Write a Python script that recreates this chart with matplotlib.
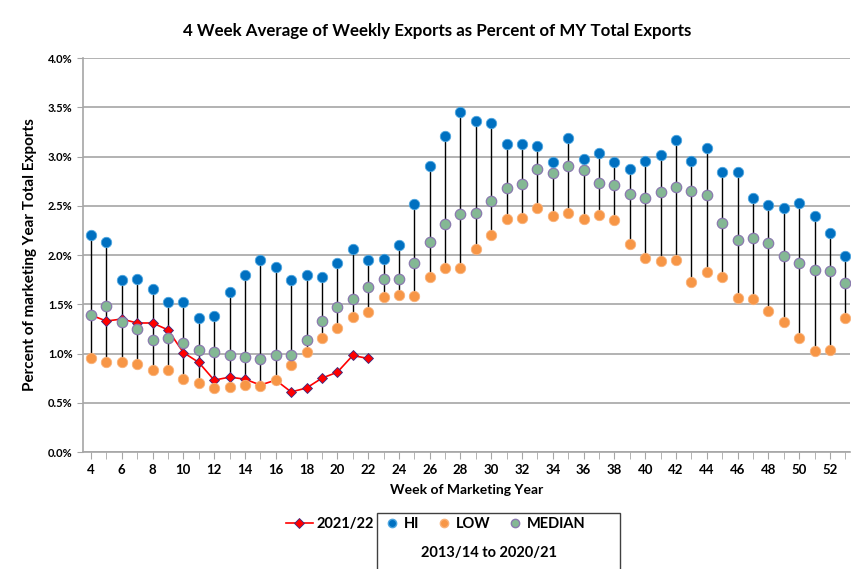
import matplotlib
matplotlib.use("Agg")
import matplotlib.pyplot as plt
from matplotlib.lines import Line2D
from matplotlib.patches import Rectangle
from matplotlib.ticker import FuncFormatter, MultipleLocator

plt.rcParams['font.family'] = ['Lato', 'DejaVu Sans']
plt.rcParams['font.weight'] = 'bold'

weeks = list(range(4, 54))
hi = [2.20, 2.13, 1.75, 1.76, 1.66, 1.52, 1.52, 1.36, 1.38, 1.62,
      1.80, 1.95, 1.88, 1.75, 1.80, 1.78, 1.92, 2.06, 1.95, 1.96,
      2.10, 2.52, 2.90, 3.21, 3.45, 3.36, 3.34, 3.13, 3.13, 3.11,
      2.94, 3.19, 2.98, 3.04, 2.94, 2.87, 2.95, 3.02, 3.17, 2.95,
      3.09, 2.84, 2.84, 2.58, 2.51, 2.48, 2.53, 2.40, 2.22, 1.99]
low = [0.95, 0.91, 0.91, 0.89, 0.83, 0.83, 0.74, 0.70, 0.65, 0.66,
       0.68, 0.67, 0.73, 0.88, 1.02, 1.16, 1.26, 1.37, 1.42, 1.57,
       1.59, 1.58, 1.78, 1.87, 1.87, 2.06, 2.20, 2.37, 2.38, 2.48,
       2.40, 2.43, 2.37, 2.41, 2.36, 2.11, 1.97, 1.94, 1.95, 1.73,
       1.83, 1.78, 1.56, 1.55, 1.43, 1.32, 1.16, 1.03, 1.04, 1.36]
median = [1.39, 1.48, 1.32, 1.25, 1.14, 1.16, 1.11, 1.04, 1.02, 0.99,
          0.96, 0.94, 0.98, 0.98, 1.14, 1.33, 1.47, 1.55, 1.68, 1.76,
          1.76, 1.92, 2.13, 2.32, 2.42, 2.43, 2.55, 2.68, 2.72, 2.87,
          2.83, 2.90, 2.86, 2.73, 2.71, 2.62, 2.58, 2.64, 2.69, 2.65,
          2.61, 2.33, 2.15, 2.17, 2.12, 1.99, 1.92, 1.85, 1.84, 1.72]
cur_weeks = list(range(4, 23))
current = [1.39, 1.33, 1.35, 1.31, 1.31, 1.24, 1.01, 0.91, 0.73, 0.76,
           0.74, 0.68, 0.73, 0.61, 0.65, 0.75, 0.81, 0.98, 0.95]

C_HI = '#0070C0'
C_LOW = '#F79646'
C_MED = '#84B894'
C_MED_EDGE = '#8A7AAE'
C_CUR = '#FF0000'

fig = plt.figure(figsize=(8.58, 5.69), dpi=100)
ax = fig.add_axes([0.0967, 0.2056, 0.894, 0.6924])

ax.vlines(weeks, low, hi, color='black', lw=1.0, zorder=2)
ax.plot(cur_weeks, current, color=C_CUR, lw=1.2, marker='D', ms=5,
        mfc=C_CUR, mec='#3A2A80', mew=0.6, zorder=3)
ax.plot(weeks, low, ls='none', marker='o', ms=7.5, mfc=C_LOW, mec='#F9B27A', mew=0.6, zorder=4)
ax.plot(weeks, median, ls='none', marker='o', ms=7.5, mfc=C_MED, mec=C_MED_EDGE, mew=0.9, zorder=4)
ax.plot(weeks, hi, ls='none', marker='o', ms=7.5, mfc=C_HI, mec='#4DA6E0', mew=0.6, zorder=5)

ax.set_xlim(3.48, 53.3)
ax.set_ylim(0, 4.0)
ax.yaxis.set_major_locator(MultipleLocator(0.5))
ax.yaxis.set_major_formatter(FuncFormatter(lambda v, p: f"{v:.1f}%"))
ax.xaxis.set_minor_locator(MultipleLocator(1))
ax.set_xticks(range(4, 53, 2))
ax.grid(axis='y', color='#A6A6A6', lw=1.2, zorder=0)
ax.set_axisbelow(True)
for s in ['top', 'right']:
    ax.spines[s].set_visible(False)
for s in ['left', 'bottom']:
    ax.spines[s].set_color('#A6A6A6')
    ax.spines[s].set_linewidth(1.2)
ax.tick_params(axis='x', which='both', direction='out', color='#A6A6A6', length=5, labelsize=9.5)
ax.tick_params(axis='y', which='both', direction='out', color='#A6A6A6', length=4, labelsize=8)
for lab in ax.get_xticklabels() + ax.get_yticklabels():
    lab.set_fontweight('bold')

ax.set_xlabel('Week of Marketing Year', fontsize=10, fontweight='bold', labelpad=6)
ax.set_ylabel('Percent of marketing Year Total Exports', fontsize=11, fontweight='bold', labelpad=8)
fig.text(0.509, 0.945, '4 Week Average of Weekly Exports as Percent of MY Total Exports',
         ha='center', va='center', fontsize=12.2, fontweight='bold')

# legends
h_cur = Line2D([], [], color=C_CUR, lw=1.2, marker='D', ms=5, mfc=C_CUR, mec='#3A2A80', mew=0.6)
fig.legend([h_cur], ['2021/22'], loc='center', bbox_to_anchor=(0.385, 0.079),
           frameon=False, fontsize=10.5, handlelength=1.8, handletextpad=0.3)
h_hi = Line2D([], [], ls='none', marker='o', ms=6, mfc=C_HI, mec='#4DA6E0')
h_low = Line2D([], [], ls='none', marker='o', ms=6, mfc=C_LOW, mec='#F9B27A')
h_med = Line2D([], [], ls='none', marker='o', ms=6, mfc=C_MED, mec=C_MED_EDGE)
fig.legend([h_hi, h_low, h_med], ['HI', 'LOW', 'MEDIAN'], loc='center',
           bbox_to_anchor=(0.566, 0.079), ncol=3, frameon=False, fontsize=10.5,
           handlelength=0.8, handletextpad=0.4, columnspacing=1.3)
fig.patches.append(Rectangle((377 / 858, -0.01), (620 - 377) / 858, (569 - 513) / 569 + 0.01,
                             transform=fig.transFigure, fill=False, ec='#404040', lw=1.0))
fig.text(0.5705, 0.028, '2013/14 to 2020/21', ha='center', va='center',
         fontsize=10.5, fontweight='bold')

fig.savefig('out.png', dpi=100)
